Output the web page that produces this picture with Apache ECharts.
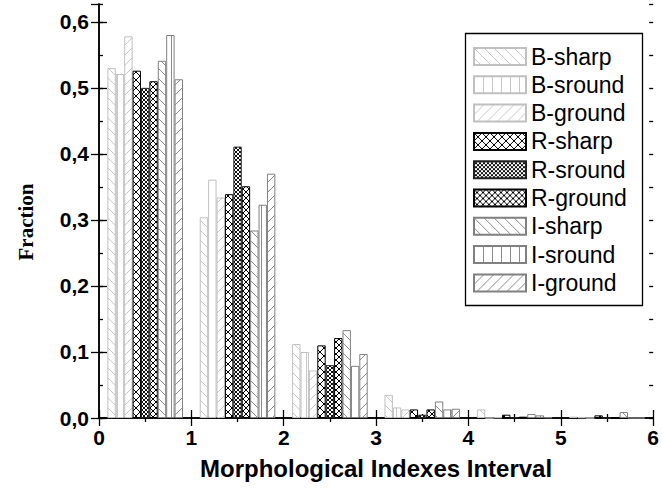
<!DOCTYPE html>
<html>
<head>
<meta charset="utf-8">
<script src="https://cdn.jsdelivr.net/npm/echarts@6/dist/echarts.min.js"></script>
<style>html,body{margin:0;padding:0;background:#fff}#c{width:662px;height:495px}</style>
</head>
<body>
<div id="c"></div>
<script>
// ---- data ----
const categories = ['0-1', '1-2', '2-3', '3-4', '4-5', '5-6'];
const xTicks = [0, 1, 2, 3, 4, 5, 6];
const yTicks = [0, 0.1, 0.2, 0.3, 0.4, 0.5, 0.6];
const seriesNames = ['B-sharp', 'B-sround', 'B-ground', 'R-sharp', 'R-sround', 'R-ground', 'I-sharp', 'I-sround', 'I-ground'];
const B_sharp  = [0.530, 0.304, 0.112, 0.035, 0.013, 0.002];
const B_sround = [0.521, 0.361, 0.100, 0.016, 0.000, 0.001];
const B_ground = [0.578, 0.334, 0.072, 0.013, 0.001, 0.000];
const R_sharp  = [0.526, 0.339, 0.110, 0.013, 0.005, 0.004];
const R_sround = [0.500, 0.411, 0.080, 0.005, 0.001, 0.000];
const R_ground = [0.510, 0.351, 0.121, 0.013, 0.002, 0.000];
const I_sharp  = [0.541, 0.284, 0.133, 0.025, 0.006, 0.009];
const I_sround = [0.580, 0.323, 0.079, 0.013, 0.004, 0.000];
const I_ground = [0.513, 0.370, 0.097, 0.014, 0.001, 0.000];
const seriesValues = [B_sharp, B_sround, B_ground, R_sharp, R_sround, R_ground, I_sharp, I_sround, I_ground];

// ---- styles ----
function makePattern(type, color, s) {
  const c = document.createElement('canvas');
  c.width = s; c.height = s;
  const g = c.getContext('2d');
  g.fillStyle = '#fff'; g.fillRect(0, 0, s, s);
  g.strokeStyle = color; g.lineWidth = 1;
  g.beginPath();
  if (type === 'back' || type === 'cross') {
    g.moveTo(-1, -1); g.lineTo(s + 1, s + 1);
    g.moveTo(s - 1, -1); g.lineTo(s + 1, 1);
    g.moveTo(-1, s - 1); g.lineTo(1, s + 1);
  }
  if (type === 'fwd' || type === 'cross') {
    g.moveTo(-1, s + 1); g.lineTo(s + 1, -1);
    g.moveTo(-1, 1); g.lineTo(1, -1);
    g.moveTo(s - 1, s + 1); g.lineTo(s + 1, s - 1);
  }
  if (type === 'vert') {
    g.moveTo(0.5, 0); g.lineTo(0.5, s);
  }
  g.stroke();
  return { image: c, repeat: 'repeat', imageWidth: s, imageHeight: s };
}
const styles = [
  { p: ['back', '#c8c8c8', 10], b: '#c0c0c0' },
  { p: ['vert', '#c8c8c8', 9], b: '#c0c0c0' },
  { p: ['fwd', '#c8c8c8', 10], b: '#c0c0c0' },
  { p: ['cross', '#000', 8], b: '#000' },
  { p: ['cross', '#111', 4], b: '#222' },
  { p: ['cross', '#000', 6], b: '#000' },
  { p: ['back', '#8c8c8c', 10], b: '#808080' },
  { p: ['vert', '#8c8c8c', 9], b: '#808080' },
  { p: ['fwd', '#8c8c8c', 10], b: '#808080' }
];

const chart = echarts.init(document.getElementById('c'), null, { renderer: 'svg' });
const fontSans = 'Liberation Sans, Arial, sans-serif';
const axLine = { show: true, lineStyle: { color: '#000', width: 1.5 } };

const series = seriesNames.map((n, i) => ({
  name: n,
  type: 'bar',
  xAxisIndex: 0,
  yAxisIndex: 0,
  barWidth: 8.4,
  barGap: '0%',
  data: seriesValues[i],
  itemStyle: { color: makePattern(...styles[i].p), borderColor: styles[i].b, borderWidth: 1 },
  emphasis: { disabled: true },
  animation: false
}));

const yMax = 0.627;
function yMain(pos, labels) {
  return {
    type: 'value', position: pos, min: 0, max: yMax, interval: 0.1,
    axisLine: axLine,
    axisTick: { show: true, inside: true, length: 8, lineStyle: { color: '#000', width: 1.3 } },
    axisLabel: labels ? {
      show: true, showMaxLabel: false, margin: 10,
      fontFamily: fontSans, fontWeight: 'bold', fontSize: 21, color: '#000',
      formatter: v => (yTicks.indexOf(Math.round(v * 10) / 10) >= 0 ? v.toFixed(1).replace('.', ',') : '')
    } : { show: false },
    splitLine: { show: false }
  };
}
function yMinor(pos) {
  return {
    type: 'value', position: pos, min: 0, max: yMax, interval: 0.05,
    axisLine: { show: false },
    axisTick: { show: true, inside: true, length: 4, lineStyle: { color: '#000', width: 1.3 } },
    axisLabel: { show: false }, splitLine: { show: false }
  };
}
function xVal(pos, labels) {
  return {
    type: 'value', position: pos, min: xTicks[0], max: xTicks[xTicks.length - 1], interval: 1,
    axisLine: axLine,
    axisTick: { show: true, inside: true, length: 8, lineStyle: { color: '#000', width: 1.3 } },
    minorTick: { show: true, splitNumber: 2, length: 4, lineStyle: { color: '#000', width: 1.3 } },
    axisLabel: labels ? { show: true, margin: 9, fontFamily: fontSans, fontWeight: 'bold', fontSize: 21, color: '#000' } : { show: false },
    splitLine: { show: false },
    name: labels ? 'Morphological Indexes Interval' : '',
    nameLocation: 'middle', nameGap: 38,
    nameTextStyle: { fontFamily: fontSans, fontWeight: 'bold', fontSize: 24, color: '#000' }
  };
}

const yLeft = yMain('left', true);
yLeft.name = 'Fraction';
yLeft.nameLocation = 'middle';
yLeft.nameGap = 63;
yLeft.nameTextStyle = { fontFamily: 'Liberation Serif, Times New Roman, serif', fontWeight: 'bold', fontSize: 21, color: '#000', padding: [0, 22, 0, 0] };

chart.setOption({
  backgroundColor: '#fff',
  animation: false,
  grid: { left: 99, right: 7, top: 4, bottom: 77, containLabel: false },
  legend: {
    data: seriesNames,
    orient: 'vertical',
    left: 468, top: 31,
    itemWidth: 52, itemHeight: 17, itemGap: 5.3,
    padding: [14, 5, 13, 5],
    textStyle: { fontFamily: fontSans, fontSize: 23, color: '#000' },
    selectedMode: false,
    icon: 'rect'
  },
  graphic: [{
    type: 'rect', silent: true, z: 1,
    right: 17, top: 31,
    shape: { width: 177, height: 272 },
    style: { fill: 'none', stroke: '#000', lineWidth: 1.3 }
  }],
  xAxis: [
    { type: 'category', data: categories, show: false, boundaryGap: true },
    xVal('bottom', true),
    xVal('top', false)
  ],
  yAxis: [yLeft, yMain('right', false), yMinor('left'), yMinor('right')],
  series: series
});
</script>
</body>
</html>
